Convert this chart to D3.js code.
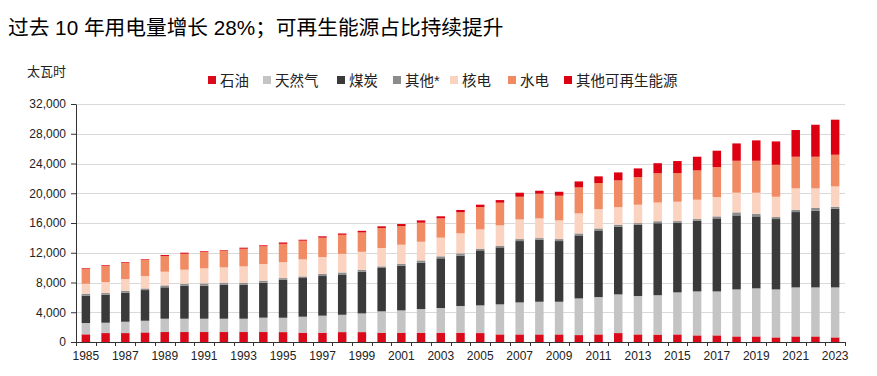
<!DOCTYPE html>
<html><head><meta charset="utf-8">
<script src="https://cdn.jsdelivr.net/npm/d3@7/dist/d3.min.js"></script>
<style>
body{margin:0;background:#fff;}
text{font-family:"Liberation Sans","Noto Sans CJK SC",Arial,sans-serif;}
</style></head>
<body><svg id="c" width="877" height="376"></svg>
<script>
const years = d3.range(1985, 2024).map(String);
const seriesNames = ["石油","天然气","煤炭","其他*","核电","水电","其他可再生能源"];
const seriesColors = ["#DA0A1A","#C4C4C4","#3A3A3A","#8C8C8C","#FAD3C1","#F08B63","#DC0012"];
const oil   = [1030,1200,1200,1290,1340,1340,1340,1340,1340,1340,1330,1250,1250,1330,1330,1250,1250,1250,1250,1250,1200,1020,1020,1020,1020,930,1020,1200,1020,1000,1020,890,890,750,750,620,750,750,620];
const gas   = [1520,1390,1525,1570,1790,1790,1790,1790,1790,1930,1930,2150,2290,2330,2510,2870,3000,3180,3320,3590,3720,4040,4300,4390,4390,4930,5020,5200,5160,5290,5650,5910,5910,6320,6460,6450,6590,6590,6720];
const coal  = [3680,3770,3900,4120,4220,4440,4440,4570,4570,4710,5110,5200,5330,5420,5600,5830,6000,6230,6680,6770,7400,7660,8250,8340,8160,8470,8960,9100,9590,9680,9370,9510,9820,9950,9680,9460,10130,10310,10580];
const other = [260,220,270,220,260,270,310,270,270,270,220,220,270,270,270,220,270,310,270,310,220,220,270,220,270,270,270,270,220,270,220,220,270,410,360,270,310,400,270];
const nuclear = [1350,1480,1570,1660,1840,1880,2020,2060,2200,2240,2150,2290,2290,2510,2420,2470,2560,2510,2510,2690,2600,2740,2640,2650,2510,2690,2600,2370,2470,2510,2600,2600,2600,2640,2820,2730,2870,2600,2730];
const hydro = [2020,2200,2190,2200,2110,2150,2240,2250,2370,2380,2460,2510,2600,2550,2600,2690,2510,2560,2600,2830,3000,3050,3050,3320,3320,3500,3500,3590,3720,3940,3850,3940,4030,4300,4300,4300,4260,4260,4260];
const renew = [80,90,90,80,130,140,90,80,140,130,180,130,180,180,220,220,270,310,270,310,320,350,540,400,530,800,900,1070,1160,1350,1620,1840,2200,2330,2740,3140,3590,4300,4710];
const yTicks = [0,4000,8000,12000,16000,20000,24000,28000,32000];
const xLabels = years.filter((d,i)=>i%2===0);
const title = "过去 10 年用电量增长 28%；可再生能源占比持续提升";
const unit = "太瓦时";

const seriesData = [oil,gas,coal,other,nuclear,hydro,renew];
const rows = years.map((y,i)=>{const r={year:y}; seriesNames.forEach((n,k)=>r[n]=seriesData[k][i]); return r;});
const stack = d3.stack().keys(seriesNames)(rows);

const svg = d3.select("#c");
const L=76, R=845, T=104, B=342;
const x = d3.scaleBand().domain(years).range([L,R]).paddingInner(0.57).paddingOuter(0.285);
const y = d3.scaleLinear().domain([0,32000]).range([B,T]);

svg.append("text").attr("x",8).attr("y",35).attr("font-size",20.7).attr("fill","#000").text(title);
svg.append("text").attr("x",27).attr("y",76).attr("font-size",13).attr("fill","#222").text(unit);

// grid
svg.append("g").selectAll("line").data(yTicks.filter(d=>d>0)).join("line")
  .attr("x1",L).attr("x2",R).attr("y1",d=>Math.round(y(d))+0.5).attr("y2",d=>Math.round(y(d))+0.5)
  .attr("stroke","#D9D9D9").attr("stroke-width",1);

// bars
const g = svg.append("g");
stack.forEach((s,k)=>{
  g.append("g").attr("fill",seriesColors[k]).selectAll("rect").data(s).join("rect")
    .attr("x",d=>x(d.data.year)).attr("width",x.bandwidth())
    .attr("y",d=>y(d[1])).attr("height",d=>Math.max(0,y(d[0])-y(d[1])));
});

// y axis
const ya = svg.append("g").attr("transform",`translate(${L},0)`)
  .call(d3.axisLeft(y).tickValues(yTicks).tickFormat(d3.format(",")).tickSize(5).tickSizeOuter(0));
ya.selectAll("text").attr("font-size",12).attr("fill","#222").attr("dx","-2");
ya.selectAll("line,path").attr("stroke","#333");

// x axis
const xa = svg.append("g").attr("transform",`translate(0,${B})`)
  .call(d3.axisBottom(x).tickValues(xLabels).tickSize(0).tickPadding(9).tickSizeOuter(0));
xa.select("path").attr("stroke","#333");
xa.selectAll("text").attr("font-size",12).attr("fill","#222");
const step = x.step();
svg.append("g").selectAll("line").data(d3.range(years.length+1)).join("line")
  .attr("x1",i=>Math.round(L+i*step)+0.5).attr("x2",i=>Math.round(L+i*step)+0.5)
  .attr("y1",B).attr("y2",B+4).attr("stroke","#333");

// legend
const legendX = [208,263,337,393,450,508,564];
const lg = svg.append("g");
seriesNames.forEach((n,k)=>{
  lg.append("rect").attr("x",legendX[k]).attr("y",76).attr("width",8).attr("height",8).attr("fill",seriesColors[k]);
  lg.append("text").attr("x",legendX[k]+12).attr("y",85.5).attr("font-size",14.5).attr("fill","#222").text(n);
});
</script></body></html>
